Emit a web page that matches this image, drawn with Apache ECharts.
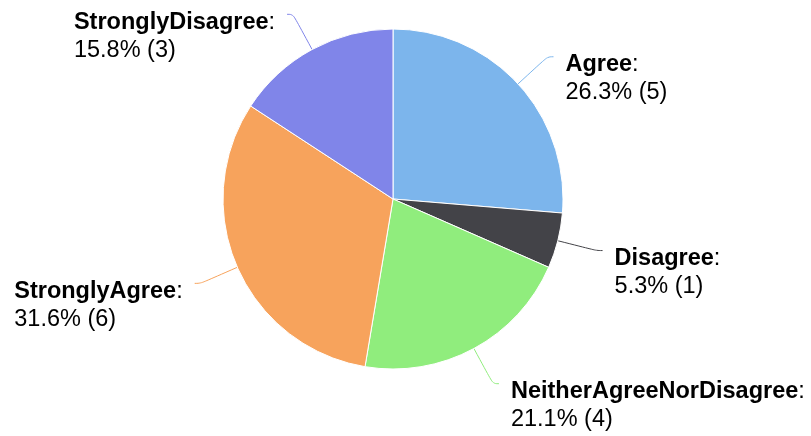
<!DOCTYPE html>
<html>
<head>
<meta charset="utf-8">
<script src="https://cdn.jsdelivr.net/npm/echarts@6/dist/echarts.min.js"></script>
<style>
  html, body { margin: 0; padding: 0; background: #fff; }
  #chart { width: 811px; height: 436px; }
</style>
</head>
<body>
<div id="chart"></div>
<script>
// answers and counts, clockwise from 12 o'clock
const categories = ['Agree', 'Disagree', 'NeitherAgreeNorDisagree', 'StronglyAgree', 'StronglyDisagree']
const counts = [5, 1, 4, 6, 3]
const colors = ['#7cb5ec', '#434348', '#90ed7d', '#f7a35c', '#8085e9']

const total = counts.reduce((a, b) => a + b, 0)
const font = 'Liberation Sans, Arial, sans-serif'
const fs = 23.5

const chart = echarts.init(document.getElementById('chart'))

const option = {
  animation: false,
  color: colors,
  series: [
    {
      type: 'pie',
      // roomy layout box so long labels are not cut
      left: 0,
      width: 900,
      top: 0,
      height: 436,
      center: [393, 199],
      radius: 170,
      startAngle: 90,
      clockwise: true,
      itemStyle: {
        borderColor: '#fff',
        borderWidth: 1
      },
      label: {
        show: true,
        color: '#000',
        fontFamily: font,
        fontSize: fs,
        lineHeight: 28,
        // short box: text hangs just below the connector end, like the source
        height: 12,
        overflow: 'none',
        distanceToLabelLine: 12,
        formatter: function (p) {
          // plain rounding like the source chart (21.1%, not 21%)
          const pct = (p.value / total * 100).toFixed(1)
          return '{n|' + p.name + '}{t|:}\n{t|' + pct + '% (' + p.value + ')}'
        },
        rich: {
          n: { fontWeight: 'bold', fontSize: fs, lineHeight: 28, align: 'left', fontFamily: font, color: '#000' },
          t: { fontSize: fs, lineHeight: 28, align: 'left', fontFamily: font, color: '#000' }
        }
      },
      labelLine: {
        show: true,
        length: 40,
        length2: 6,
        smooth: 0.4,
        lineStyle: { width: 1 }
      },
      emphasis: { disabled: true },
      data: categories.map((name, i) => ({ name: name, value: counts[i] }))
    }
  ]
}
chart.setOption(option)
</script>
</body>
</html>
